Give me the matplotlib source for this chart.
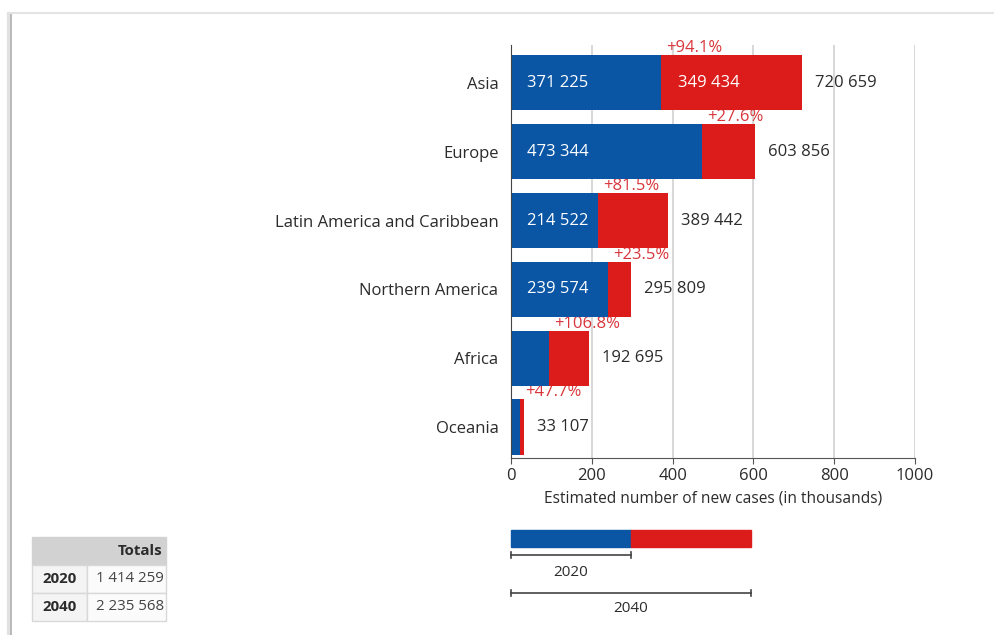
import numpy as np
import matplotlib.pyplot as plt
from matplotlib.patches import Rectangle
from matplotlib.lines import Line2D
import matplotlib.transforms as mtransforms

plt.rcParams['font.family'] = ['Open Sans', 'DejaVu Sans']

# Estimated new cases per region
regions = ['Asia', 'Europe', 'Latin America and Caribbean',
           'Northern America', 'Africa', 'Oceania']
cases_2020 = [371225, 473344, 214522, 239574, 93178, 22417]
cases_2040 = [720659, 603856, 389442, 295809, 192695, 33107]
totals_years = ['2020', '2040']
totals_values = [1414259, 2235568]
xticks = [0, 200, 400, 600, 800, 1000]

BLUE = '#0a55a4'
RED = '#dc1b1b'
PCT_RED = '#d9363b'
TXT = '#2b2b2b'
W, H = 995, 635
FS = 12


def fmt(v):
    return f"{v:,}".replace(",", " ")


def px_rect(x0, y0, x1, y1):
    # pixel box (from top-left) -> figure fraction rect
    return [x0 / W, 1 - y1 / H, (x1 - x0) / W, (y1 - y0) / H]


fig = plt.figure(figsize=(W / 100, H / 100), dpi=100)
fig.patch.set_facecolor('white')

# card outline
fig.add_artist(Line2D([9 / W, 9 / W], [0, 1 - 14 / H], color='#e2e2e2', lw=3,
                      transform=fig.transFigure))
fig.add_artist(Line2D([11 / W, 11 / W], [0, 1 - 14 / H], color='#b5b5b5', lw=1.3,
                      transform=fig.transFigure))
fig.add_artist(Line2D([10 / W, 1], [1 - 13 / H, 1 - 13 / H], color='#e4e4e4', lw=1.5,
                      transform=fig.transFigure))

ax = fig.add_axes(px_rect(511, 45, 915, 458))

v20 = np.array(cases_2020) / 1000
v40 = np.array(cases_2040) / 1000
y = np.arange(len(regions))
h = 0.8

ax.barh(y, v20, height=h, color=BLUE, zorder=3)
ax.barh(y, v40 - v20, left=v20, height=h, color=RED, zorder=3)

off = lambda dx, dy: mtransforms.offset_copy(ax.transData, fig=fig, x=dx, y=dy, units='dots')

for i in range(len(regions)):
    a, b = cases_2020[i], cases_2040[i]
    if a >= 200000:
        ax.text(0, y[i], fmt(a), color='white', fontsize=FS, va='center', ha='left',
                transform=off(16, 0), zorder=4)
    if b - a >= 200000:
        ax.text(v20[i], y[i], fmt(b - a), color='white', fontsize=FS, va='center',
                ha='left', transform=off(17, 0), zorder=4)
    ax.text(v40[i], y[i], fmt(b), color=TXT, fontsize=FS, va='center', ha='left',
            transform=off(13, 0), zorder=4)
    pct = (b - a) / a * 100
    ax.text(v20[i], y[i] - h / 2, f"+{pct:.1f}%", color=PCT_RED, fontsize=FS,
            va='baseline', ha='left', transform=off(5, 3), zorder=2)

ax.set_xlim(0, 1000)
ax.set_ylim(len(regions) - 0.55, -0.55)
ax.set_yticks(y)
ax.set_yticklabels(regions, fontsize=FS, color=TXT)
ax.set_xticks(xticks)
ax.set_xticklabels([str(t) for t in xticks], fontsize=FS, color=TXT)
ax.tick_params(axis='y', length=0, pad=9)
ax.tick_params(axis='x', length=4, color='#555555', pad=3)
ax.xaxis.grid(True, color='#d4d4d4', lw=1.3, zorder=0)
ax.set_axisbelow(True)
for s in ['top', 'right']:
    ax.spines[s].set_visible(False)
ax.spines['left'].set_color('#444444')
ax.spines['bottom'].set_color('#555555')
ax.spines['left'].set_zorder(5)
ax.set_xlabel('Estimated number of new cases (in thousands)', fontsize=11.2,
              color=TXT, labelpad=5)

# legend key
lg = fig.add_axes(px_rect(511, 525, 751, 625))
lg.set_xlim(0, 2)
lg.set_ylim(100, 0)
lg.axis('off')
lg.add_patch(Rectangle((0, 5), 1, 17, color=BLUE, clip_on=False))
lg.add_patch(Rectangle((1, 5), 1, 17, color=RED, clip_on=False))
for x1, yy, lab, ty in [(1, 30, totals_years[0], 48), (2, 68, totals_years[1], 84)]:
    lg.plot([0, x1], [yy, yy], color='#444444', lw=1.2, clip_on=False)
    lg.plot([0, 0], [yy - 3, yy + 3], color='#444444', lw=1.2, clip_on=False)
    lg.plot([x1, x1], [yy - 3, yy + 3], color='#444444', lw=1.2, clip_on=False)
    lg.text(x1 / 2, ty, lab, ha='center', va='center', fontsize=11, color=TXT)

# totals table
tb = fig.add_axes(px_rect(32, 537, 166, 621))
tb.set_xlim(0, 134)
tb.set_ylim(84, 0)
tb.axis('off')
tb.add_patch(Rectangle((0, 0), 134, 28, color='#d2d2d2', clip_on=False))
tb.text(131, 14, 'Totals', ha='right', va='center', fontsize=10.8, fontweight='bold',
        color=TXT)
for r in range(2):
    y0 = 28 + r * 28
    tb.add_patch(Rectangle((0, y0), 55, 28, facecolor='#f4f4f4', edgecolor='#d8d8d8',
                           lw=1, clip_on=False))
    tb.add_patch(Rectangle((55, y0), 79, 28, facecolor='#fbfbfb', edgecolor='#d8d8d8',
                           lw=1, clip_on=False))
    tb.text(45, y0 + 14, totals_years[r], ha='right', va='center', fontsize=10.8,
            fontweight='bold', color=TXT)
    tb.text(132, y0 + 14, fmt(totals_values[r]), ha='right', va='center', fontsize=10.8,
            color='#444444')

fig.savefig('out.png', dpi=100)
